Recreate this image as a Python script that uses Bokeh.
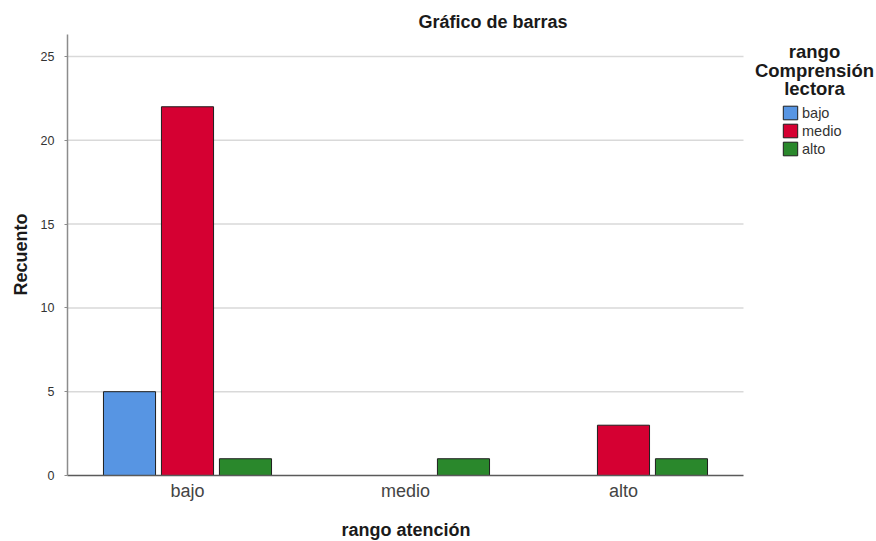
from bokeh.plotting import figure
from bokeh.models import (ColumnDataSource, Range1d, FixedTicker, Label, Legend, LegendItem)
from bokeh.transform import dodge
from bokeh.embed import file_html
from bokeh.resources import INLINE
import math

# ---- data ----
categories = ["bajo", "medio", "alto"]          # rango atención
series_names = ["bajo", "medio", "alto"]        # rango Comprensión lectora
counts_bajo = [5, 0, 0]
counts_medio = [22, 0, 3]
counts_alto = [1, 1, 1]
y_ticks = [0, 5, 10, 15, 20, 25]

colors = ["#5795e3", "#d50032", "#2a882c"]
series_values = [counts_bajo, counts_medio, counts_alto]
offsets = [-0.266, 0.0, 0.266]

FONT = "Liberation Sans"
X_LO, X_HI = -0.5505, 2.5505     # visible plot-area extent (categories)
Y_TOP = 26.31                    # top of value axis

p = figure(width=876, height=541, output_backend="svg", toolbar_location=None,
           title=None, x_range=Range1d(-0.8578, 3.1606), y_range=Range1d(-3.938, 28.34),
           min_border_left=0, min_border_right=0, min_border_top=0,
           min_border_bottom=0)
p.outline_line_color = None
p.background_fill_color = "white"

# gridlines limited to plot area
p.xgrid.visible = False
p.ygrid.visible = False
gy = [t for t in y_ticks if t > 0]
p.segment(x0=[X_LO] * len(gy), x1=[X_HI] * len(gy), y0=gy, y1=gy,
          line_color="#d9d9d9", line_width=1.5)

renderers = []
for name, vals, col, off in zip(series_names, series_values, colors, offsets):
    xs = [i for i, v in enumerate(vals) if v > 0]
    ys = [v for v in vals if v > 0]
    src = ColumnDataSource(dict(x=xs, y=ys))
    r = p.vbar(x=dodge("x", off), top="y", bottom=0, width=0.239, source=src,
               fill_color=col, line_color="#1e1e1e", line_width=1)
    renderers.append((name, r))

# axes (drawn at fixed data locations)
p.yaxis.fixed_location = X_LO
p.yaxis.ticker = FixedTicker(ticks=y_ticks)
p.yaxis.bounds = (0, Y_TOP)
p.yaxis.axis_line_color = "#8c8c8c"
p.yaxis.axis_line_width = 1.5
p.yaxis.major_tick_line_color = "#8c8c8c"
p.yaxis.major_tick_out = 3
p.yaxis.major_tick_in = 0
p.yaxis.minor_tick_line_color = None
p.yaxis.major_label_text_font = FONT
p.yaxis.major_label_text_font_size = "12.5px"
p.yaxis.major_label_text_color = "#333333"
p.yaxis.major_label_standoff = 10

p.xaxis.fixed_location = 0
p.xaxis.ticker = FixedTicker(ticks=list(range(len(categories))))
p.xaxis.major_label_overrides = {i: c for i, c in enumerate(categories)}
p.xaxis.bounds = (X_LO, X_HI)
p.xaxis.axis_line_color = "#5a5a5a"
p.xaxis.axis_line_width = 1.5
p.xaxis.major_tick_line_color = None
p.xaxis.minor_tick_line_color = None
p.xaxis.major_label_text_font = FONT
p.xaxis.major_label_text_font_size = "18px"
p.xaxis.major_label_text_color = "#444444"
p.xaxis.major_label_standoff = 0

# texts (screen units relative to frame bottom-left)
def lbl(text, x, y, size, bold=True, align="center", baseline="alphabetic",
        angle=0, color="#1a1a1a"):
    p.add_layout(Label(x=x, y=y, x_units="screen", y_units="screen", text=text,
                       text_font=FONT, text_font_size=size,
                       text_font_style="bold" if bold else "normal",
                       text_align=align, text_baseline=baseline, angle=angle,
                       text_color=color))

H = 541
lbl("Gráfico de barras", 492.5, H - 21, "18px")
lbl("rango", 814, H - 51, "18.5px")
lbl("Comprensión", 814, H - 70, "18.5px")
lbl("lectora", 814, H - 88, "18.5px")
lbl("rango atención", 405.5, H - 529, "18px")
lbl("Recuento", 20, H - 254, "18px", baseline="middle", angle=math.pi / 2)

legend = Legend(items=[LegendItem(label=n, renderers=[r]) for n, r in renderers],
                location=(781, H - 157), orientation="vertical",
                label_text_font=FONT, label_text_font_size="14.5px",
                label_text_color="#333333", glyph_width=18, glyph_height=17,
                label_height=14, spacing=1, padding=0, margin=0,
                label_standoff=3, border_line_color=None,
                background_fill_alpha=0)
p.add_layout(legend, "center")

open("out.html", "w").write(file_html(p, INLINE))
